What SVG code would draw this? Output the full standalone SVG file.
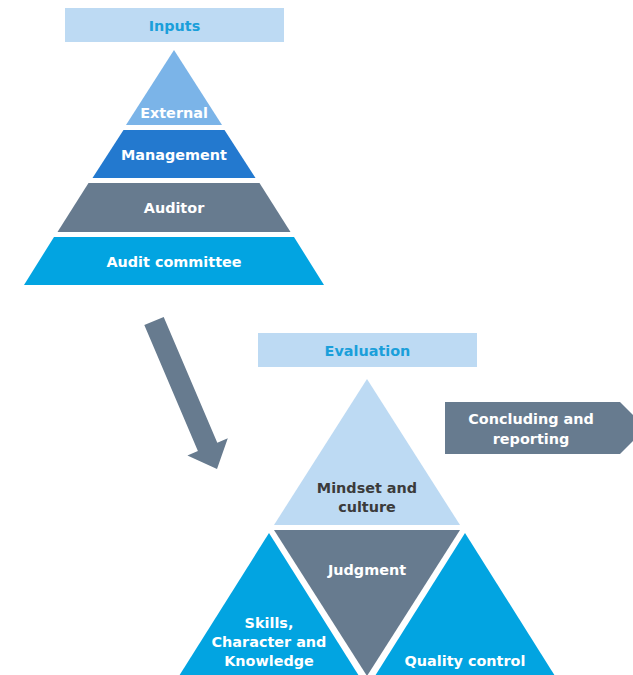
<svg xmlns="http://www.w3.org/2000/svg" width="633" height="675" viewBox="0 0 633 675">
<style>
text{font-family:"DejaVu Sans","Liberation Sans",sans-serif;font-weight:bold;font-size:14.4px;text-anchor:middle}
.w{fill:#ffffff}
.d{fill:#3b3b3b}
.h{fill:#1a9fda}
.slate{fill:#677b8f}
.lb{fill:#bddaf3}
.cy{fill:#02a4e1}
</style>
<rect width="633" height="675" fill="#ffffff"/>
<g id="inputs-title">
<rect class="lb" x="65" y="8" width="219" height="34"/>
<text class="h" x="174.5" y="31">Inputs</text>
</g>
<g id="external">
<polygon fill="#7bb4e8" points="174,50 222,125 126,125"/>
<text class="w" x="174" y="118">External</text>
</g>
<g id="management">
<polygon fill="#2379cf" points="123.5,130 224.5,130 255.5,178 92.5,178"/>
<text class="w" x="174" y="160">Management</text>
</g>
<g id="auditor">
<polygon class="slate" points="88.5,183 259.5,183 290.5,232 57.5,232"/>
<text class="w" x="174" y="213">Auditor</text>
</g>
<g id="audit-committee">
<polygon class="cy" points="54,237 294,237 324,285 24,285"/>
<text class="w" x="174" y="267">Audit committee</text>
</g>
<g id="connectors">
<polygon class="slate" points="163.7,316.9 217.3,442.8 227.8,438.3 217,469 187.4,455.5 197.9,451 144.3,325.1"/>
</g>
<g id="evaluation-title">
<rect class="lb" x="258" y="333" width="219" height="34"/>
<text class="h" x="367.5" y="356">Evaluation</text>
</g>
<g id="concluding">
<polygon class="slate" points="445,402 620,402 646,428 620,454 445,454"/>
<text class="w" x="531" y="424">Concluding and</text>
<text class="w" x="531" y="444">reporting</text>
</g>
<g id="mindset">
<polygon class="lb" points="367,379 460,525 274,525"/>
<text class="d" x="367" y="493">Mindset and</text>
<text class="d" x="367" y="512">culture</text>
</g>
<g id="judgment">
<polygon class="slate" points="274,530 460,530 367,676"/>
<text class="w" x="367" y="575">Judgment</text>
</g>
<g id="skills">
<polygon class="cy" points="269,533 359,676 179,676"/>
<text class="w" x="269" y="628">Skills,</text>
<text class="w" x="269" y="647">Character and</text>
<text class="w" x="269" y="666">Knowledge</text>
</g>
<g id="quality">
<polygon class="cy" points="465,533 555,676 375,676"/>
<text class="w" x="465" y="666">Quality control</text>
</g>
</svg>
